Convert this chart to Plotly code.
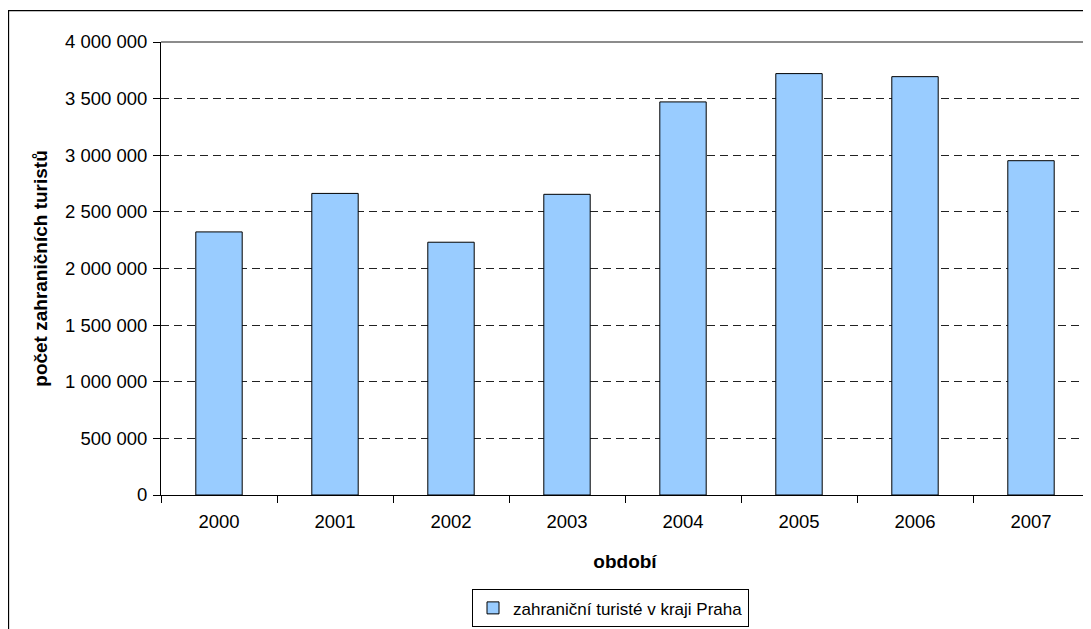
import plotly.graph_objects as go

years = ["2000", "2001", "2002", "2003", "2004", "2005", "2006", "2007"]
tourists = [2323000, 2663000, 2232000, 2655000, 3471000, 3721000, 3694000, 2952000]
series_name = "zahraniční turisté v kraji Praha"
y_title = "počet zahraničních turistů"
x_title = "období"

# page body has an 8px margin, so the figure is 8px smaller than the window
W, H = 1083, 621
L, R, T, B = 153, 2, 34, 126
pw, ph = W - L - R, H - T - B

def px_x(p):
    return (p - L) / pw

def px_y(p):
    return (H - B - p) / ph

font = "Liberation Sans, Arial, sans-serif"

fig = go.Figure()
fig.add_trace(go.Bar(
    x=years, y=tourists, name=series_name,
    marker=dict(color="#99CCFF", line=dict(color="#000000", width=1)),
    showlegend=True,
))

fig.update_layout(
    width=W, height=H,
    margin=dict(l=L, r=R, t=T, b=B, pad=0),
    paper_bgcolor="white", plot_bgcolor="white",
    separators=", ",
    font=dict(family=font, size=18, color="black"),
    bargap=0.6,
    showlegend=True,
    legend=dict(
        x=px_x(464), y=px_y(591), xanchor="left", yanchor="top",
        orientation="h", bordercolor="black", borderwidth=1,
        bgcolor="white", font=dict(size=17, family=font),
        itemwidth=30,
    ),
    xaxis=dict(
        type="category", showline=True, linecolor="black", linewidth=1,
        ticks="outside", ticklen=7, tickcolor="black", tickson="boundaries",
        tickfont=dict(size=18.5), showgrid=False, ticklabelstandoff=10,
        title=dict(text="<b>" + x_title + "</b>", font=dict(size=19), standoff=23),
    ),
    yaxis=dict(
        range=[0, 4000000], dtick=500000, tickformat=",d",
        showline=True, linecolor="black", linewidth=1,
        ticks="outside", ticklen=7, tickcolor="black",
        tickfont=dict(size=18.5), ticklabelstandoff=2,
        showgrid=True, gridcolor="#222222", gridwidth=1, griddash="8px,5px",
        zeroline=False,
        title=dict(text="<b>" + y_title + "</b>", font=dict(size=19), standoff=12),
    ),
    shapes=[
        dict(type="line", xref="x domain", yref="y domain", x0=0, x1=1, y0=1, y1=1,
             line=dict(color="#8c8c8c", width=2)),
        dict(type="line", xref="x domain", yref="y domain", x0=1, x1=1, y0=0, y1=1,
             line=dict(color="#8c8c8c", width=2)),
        dict(type="rect", xref="paper", yref="paper",
             x0=px_x(0.5), x1=px_x(1300), y0=px_y(2), y1=px_y(800),
             line=dict(color="black", width=1.3), layer="below"),
    ],
)

fig.write_html("out.html")
